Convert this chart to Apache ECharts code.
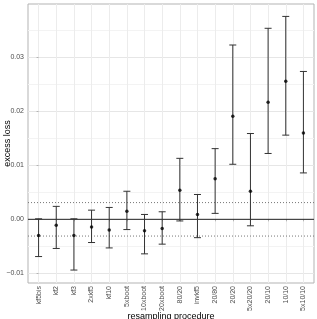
<!DOCTYPE html>
<html>
<head>
<meta charset="utf-8">
<script src="https://cdn.jsdelivr.net/npm/echarts@6/dist/echarts.min.js"></script>
<style>
html, body { margin: 0; padding: 0; background: #fff; }
#main { width: 317px; height: 319px; }
</style>
</head>
<body>
<div id="main"></div>
<script>
// resampling procedures (x categories)
var procedures = ['kf5bis', 'kf2', 'kf3', '2xkf5', 'kf10', '5xboot', '10xboot', '20xboot',
    '80/20', 'invkf5', '20/80', '20/20', '5x20/20', '20/10', '10/10', '5x10/10'];
// excess loss: point estimate, lower and upper bound
var estimate = [-0.0030, -0.0011, -0.0030, -0.0014, -0.0020, 0.0015, -0.0021, -0.0017,
    0.0054, 0.0009, 0.0075, 0.0191, 0.0052, 0.0217, 0.0256, 0.0160];
var lower = [-0.0069, -0.0054, -0.0094, -0.0043, -0.0053, -0.0019, -0.0064, -0.0046,
    -0.0003, -0.0034, 0.0011, 0.0102, -0.0012, 0.0122, 0.0156, 0.0086];
var upper = [0.0001, 0.0024, 0.0001, 0.0017, 0.0022, 0.0052, 0.0009, 0.0014,
    0.0113, 0.0046, 0.0131, 0.0323, 0.0159, 0.0354, 0.0376, 0.0274];
var refLines = [-0.0031, 0.0031];
var yTicks = [-0.01, 0, 0.01, 0.02, 0.03];
var yMinorTicks = [-0.005, 0.005, 0.015, 0.025, 0.035];

var dom = document.getElementById('main');
var myChart = echarts.init(dom, null, { renderer: 'canvas' });

var idx = procedures.map(function (p, i) { return i; });
var barData = idx.map(function (i) { return [i, lower[i], upper[i]]; });
var pointData = idx.map(function (i) { return [i, estimate[i]]; });
var xMin = -0.6, xMax = 15.6;
var yMin = -0.0118, yMax = 0.0399;

function hline(v, color, type) {
    return {
        type: 'line',
        data: [[xMin, v], [xMax, v]],
        symbol: 'none',
        silent: true,
        z: 2,
        lineStyle: { color: color, width: 1, type: type }
    };
}

var txt = '#4d4d4d';
var font = 'Liberation Sans';

var option = {
    animation: false,
    grid: {
        left: 28, top: 4, right: 3, bottom: 36,
        containLabel: false, outerBoundsMode: 'none',
        show: true, borderColor: '#b3b3b3', borderWidth: 1, backgroundColor: '#fff'
    },
    xAxis: {
        type: 'value',
        min: xMin, max: xMax,
        name: 'resampling procedure',
        nameLocation: 'middle', nameGap: 29, nameMoveOverlap: false,
        nameTextStyle: { color: '#000', fontSize: 9, fontFamily: font },
        axisLine: { show: false },
        axisTick: { show: true, length: 2, customValues: idx, lineStyle: { color: '#b3b3b3' } },
        axisLabel: {
            customValues: idx, rotate: 90, margin: 3,
            color: txt, fontSize: 7, fontFamily: font,
            formatter: function (v) { return procedures[Math.round(v)]; }
        },
        splitLine: { show: true, lineStyle: { color: '#ececec', width: 1 } }
    },
    yAxis: [{
        type: 'value',
        min: yMin, max: yMax,
        name: 'excess loss',
        nameLocation: 'middle', nameGap: 16, nameMoveOverlap: false,
        nameTextStyle: { color: '#000', fontSize: 9, fontFamily: font },
        axisLine: { show: false },
        axisTick: { show: true, length: 2, customValues: yTicks, lineStyle: { color: '#b3b3b3' } },
        axisLabel: {
            customValues: yTicks, margin: 4,
            color: txt, fontSize: 7, fontFamily: font,
            formatter: function (v) { return (v < 0 ? '\u2212' : '') + Math.abs(v).toFixed(2); }
        },
        splitLine: { show: true, lineStyle: { color: '#e6e6e6', width: 1 } }
    }, {
        type: 'value',
        min: yMin, max: yMax,
        position: 'left',
        axisLine: { show: false },
        axisTick: { show: false, customValues: yMinorTicks },
        axisLabel: { show: false, customValues: yMinorTicks },
        splitLine: { show: true, lineStyle: { color: '#f3f3f3', width: 1 } }
    }],
    series: [
        hline(0, '#222', 'solid'),
        hline(refLines[0], '#777', [1, 2]),
        hline(refLines[1], '#777', [1, 2]),
        {
            type: 'custom',
            data: barData,
            z: 3,
            renderItem: function (params, api) {
                var x = api.value(0);
                var lo = api.coord([x, api.value(1)]);
                var hi = api.coord([x, api.value(2)]);
                var w = 3.5;
                var style = { stroke: '#333', lineWidth: 1 };
                return {
                    type: 'group',
                    children: [
                        { type: 'line', shape: { x1: lo[0], y1: lo[1], x2: hi[0], y2: hi[1] }, style: style },
                        { type: 'line', shape: { x1: lo[0] - w, y1: lo[1], x2: lo[0] + w, y2: lo[1] }, style: style },
                        { type: 'line', shape: { x1: hi[0] - w, y1: hi[1], x2: hi[0] + w, y2: hi[1] }, style: style }
                    ]
                };
            }
        }, {
            type: 'scatter',
            data: pointData,
            symbol: 'circle',
            symbolSize: 3.5,
            z: 4,
            itemStyle: { color: '#000' }
        }
    ]
};
myChart.setOption(option);
</script>
</body>
</html>
